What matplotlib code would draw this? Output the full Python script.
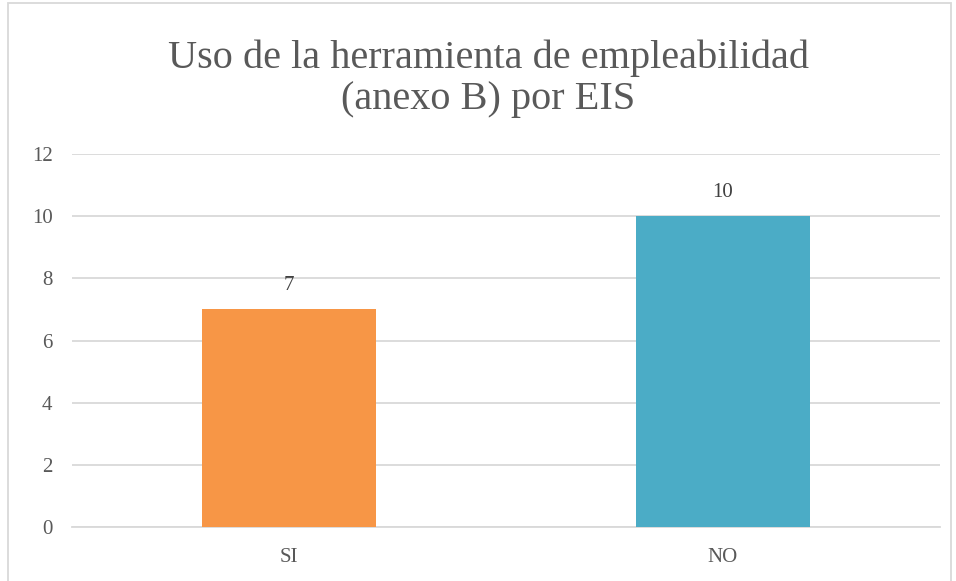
import matplotlib
matplotlib.use("Agg")
import matplotlib.pyplot as plt
from matplotlib.patches import Rectangle

categorias = ["SI", "NO"]
valores = [7, 10]
colores = ["#F79646", "#4BACC6"]
yticks = [0, 2, 4, 6, 8, 10, 12]

plt.rcParams['font.family'] = ['Liberation Serif', 'DejaVu Serif']
gris = "#595959"

fig = plt.figure(figsize=(9.56, 5.81), dpi=100)
ax = fig.add_axes([72/956, 1 - 527/581, 868/956, 373/581])

x = range(len(categorias))
barras = ax.bar(x, valores, width=0.4, color=colores, zorder=3)
for xi, v in zip(x, valores):
    ax.text(xi, v + 0.45, str(v), ha="center", va="bottom", fontsize=15, color="#404040")

ax.set_xlim(-0.5, 1.5)
ax.set_ylim(0, 12)
ax.set_yticks(yticks)
ax.set_xticks(list(x))
ax.set_xticklabels(categorias)
ax.tick_params(axis="both", length=0, labelsize=15, colors=gris)
ax.tick_params(axis="y", pad=14)
ax.tick_params(axis="x", pad=15)
ax.grid(axis="y", color="#D9D9D9", linewidth=1.3, zorder=0)
for s in ["top", "right", "left"]:
    ax.spines[s].set_visible(False)
ax.spines["bottom"].set_color("#D9D9D9")
ax.spines["bottom"].set_linewidth(1.3)

fig.text(488/956, 1 - 79/581, "Uso de la herramienta de empleabilidad\n(anexo B) por EIS",
         ha="center", va="center", fontsize=29, color=gris, linespacing=1.15)

# marco del gráfico
fig.patches.append(Rectangle((8/956, -0.05), 943/956, 1 - 3/581 + 0.05, transform=fig.transFigure,
                             fill=False, edgecolor="#D9D9D9", linewidth=1.3))

fig.savefig("out.png", dpi=100)
